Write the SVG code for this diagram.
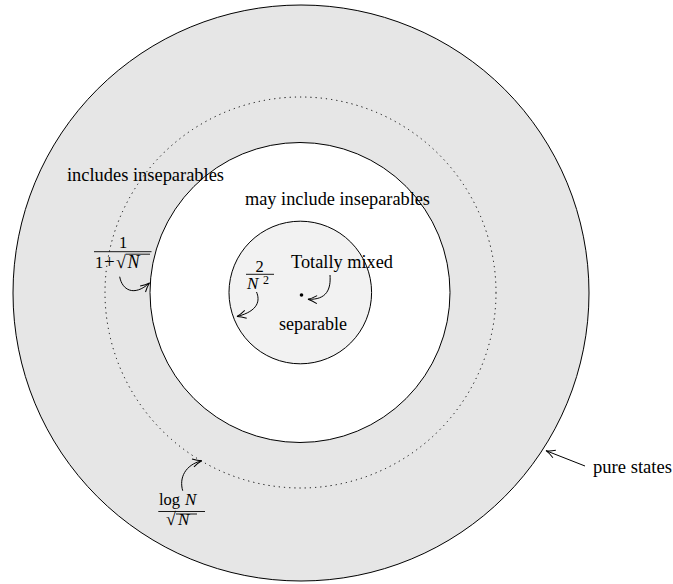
<svg xmlns="http://www.w3.org/2000/svg" width="673" height="584" viewBox="0 0 673 584">
<defs>
<marker id="ah" markerUnits="userSpaceOnUse" markerWidth="14" markerHeight="12" viewBox="-10 -6 12 12" refX="0" refY="0" orient="auto">
<path d="M-9,-4 Q-4,-1 0,0 Q-4,1 -9,4" fill="none" stroke="#000" stroke-width="1"/>
</marker>
<style>
.lbl{font-family:"Liberation Serif","Times New Roman",serif;font-size:18.5px;fill:#000}
.m{font-family:"Liberation Serif","Times New Roman",serif;font-size:16.5px;fill:#000}
.it{font-style:italic}
.ring{stroke:#000;stroke-width:1}
.conn{fill:none;stroke:#000;stroke-width:1;marker-end:url(#ah)}
.bar{stroke:#000;stroke-width:0.9}
</style>
</defs>
<rect width="673" height="584" fill="#fff"/>
<g id="pure-states-circle"><circle cx="301" cy="293" r="288" fill="#e6e6e6" class="ring"/></g>
<g id="dotted-circle"><circle cx="300.5" cy="292.5" r="195.5" fill="none" stroke="#000" stroke-width="1" stroke-dasharray="1.2 4"/></g>
<g id="inner-circle"><circle cx="300" cy="292.5" r="150" fill="#fff" class="ring"/></g>
<g id="separable-circle"><circle cx="300.3" cy="292.5" r="71.3" fill="#f2f2f2" class="ring"/></g>
<g id="totally-mixed-point"><circle cx="301.5" cy="295" r="1.8" fill="#000"/></g>

<g id="labels">
<text class="lbl" x="67" y="181" textLength="157" lengthAdjust="spacingAndGlyphs">includes inseparables</text>
<text class="lbl" x="245" y="205" textLength="185" lengthAdjust="spacingAndGlyphs">may include inseparables</text>
<text class="lbl" x="291" y="268" textLength="102" lengthAdjust="spacingAndGlyphs">Totally mixed</text>
<text class="lbl" x="279" y="330" textLength="68" lengthAdjust="spacingAndGlyphs">separable</text>
<text class="lbl" x="593" y="473" textLength="79" lengthAdjust="spacingAndGlyphs">pure states</text>
</g>

<g id="frac-1-over-1-plus-sqrtN">
<text class="m" x="119" y="247.5">1</text>
<line class="bar" x1="94" y1="251.7" x2="151.5" y2="251.7"/>
<text class="m" x="95" y="267.5">1</text>
<text class="m" x="104" y="267.5" style="font-size:19px">+</text>
<text class="m" x="116" y="267.5" style="font-size:18px">√</text>
<line class="bar" x1="126" y1="254.2" x2="150" y2="254.2"/>
<text class="m it" x="127.5" y="267.5" style="font-size:18px">N</text>
</g>

<g id="frac-2-over-N2">
<text class="m" x="255.5" y="271.5">2</text>
<line class="bar" x1="246" y1="274.3" x2="274" y2="274.3"/>
<text class="m it" x="247" y="288.5" style="font-size:17px">N</text>
<text class="m" x="263" y="284.3" style="font-size:12px">2</text>
</g>

<g id="frac-logN-over-sqrtN">
<text class="m" x="159" y="505">log</text>
<text class="m it" x="185" y="505" style="font-size:17px">N</text>
<line class="bar" x1="158.3" y1="511.5" x2="205" y2="511.5"/>
<text class="m" x="166" y="525" style="font-size:18px">√</text>
<line class="bar" x1="176" y1="514" x2="197" y2="514"/>
<text class="m it" x="178" y="525" style="font-size:17px">N</text>
</g>

<g id="connectors">
<path class="conn" d="M119.7,276.7 C122,290 134,297 149.5,283"/>
<path class="conn" d="M256.5,292 C260,300 259,311 237,316.5"/>
<path class="conn" d="M330,275 C331,289 327,300 308,299.3"/>
<path class="conn" d="M182.7,490.7 C179,478 185,465 201.7,460.7"/>
<path class="conn" d="M585,466 L546,450.7"/>
</g>
</svg>
